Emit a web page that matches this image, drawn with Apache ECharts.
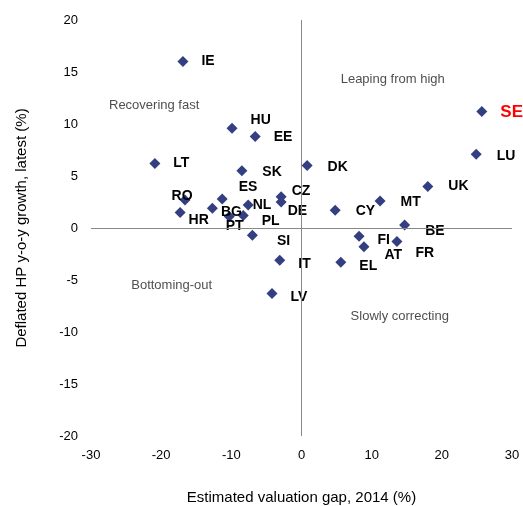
<!DOCTYPE html>
<html><head><meta charset="utf-8">
<script src="https://cdn.jsdelivr.net/npm/echarts@6/dist/echarts.min.js"></script>
<style>html,body{margin:0;padding:0;background:#fff}#c{width:523px;height:506px}</style>
</head><body><div id="c"></div>
<script>
var countries = ['IE','HU','EE','LT','SK','DK','SE','LU','UK','MT','CY','CZ','DE','NL','ES','RO','BG','HR','PL','PT','SI','BE','FI','AT','FR','IT','EL','LV'];
var gap = [-16.9,-9.9,-6.6,-20.9,-8.5,0.8,25.7,24.9,18.0,11.2,4.8,-2.9,-2.9,-7.6,-11.3,-16.6,-12.7,-17.3,-8.3,-10.3,-7.0,14.7,8.2,8.9,13.6,-3.1,5.6,-4.2];
var growth = [16.0,9.6,8.8,6.2,5.5,6.0,11.2,7.1,4.0,2.6,1.7,3.0,2.5,2.2,2.8,2.7,1.9,1.5,1.2,1.1,-0.7,0.3,-0.8,-1.8,-1.3,-3.1,-3.3,-6.3];
// label offsets [dx, dy] in px
var labelOffsets = {IE:[8,0],HU:[8,-8],EE:[8,1],LT:[8,0],SK:[10,1],DK:[10,2],SE:[8,1],LU:[10,2],UK:[10,0],MT:[10,1],CY:[10,1],CZ:[0,-6],DE:[-4,9],NL:[-6,0],ES:[6,-12],RO:[-24,-4],BG:[-2,4],HR:[-2,8],PL:[8,6],PT:[-14,10],SI:[14,6],BE:[10,6],FI:[8,4],AT:[10,8],FR:[8,12],IT:[8,4],EL:[8,4],LV:[8,4]};
var zoneNames = ['Recovering fast','Leaping from high','Bottoming-out','Slowly correcting'];
var zoneX = [-21,13,-18.5,14];
var zoneY = [11.8,14.3,-5.5,-8.5];

var pts = countries.map(function (c, i) {
  var o = labelOffsets[c];
  var big = c === 'SE';
  return {
    value: [gap[i], growth[i]], name: c,
    label: {show: true, formatter: c, position: 'right', offset: o,
      color: big ? '#ff0000' : '#000', fontWeight: 'bold', fontSize: big ? 17 : 14}
  };
});

var chart = echarts.init(document.getElementById('c'));
chart.setOption({
  backgroundColor: '#fff',
  animation: false,
  grid: {left: 91, right: 11, top: 20, bottom: 70, outerBoundsMode: 'none', containLabel: false},
  xAxis: {
    type: 'value', min: -30, max: 30, interval: 10,
    axisLine: {show: false}, axisTick: {show: false}, splitLine: {show: false},
    axisLabel: {color: '#000', fontSize: 13, fontFamily: 'Liberation Sans', margin: 13},
    name: 'Estimated valuation gap, 2014 (%)', nameLocation: 'middle', nameGap: 54,
    nameTextStyle: {color: '#000', fontSize: 15, fontFamily: 'Liberation Sans'}
  },
  yAxis: {
    type: 'value', min: -20, max: 20, interval: 5,
    axisLine: {show: false}, axisTick: {show: false}, splitLine: {show: false},
    axisLabel: {color: '#000', fontSize: 13, fontFamily: 'Liberation Sans', margin: 13},
    name: 'Deflated HP y-o-y growth, latest (%)', nameLocation: 'middle', nameGap: 62,
    nameTextStyle: {color: '#000', fontSize: 15, fontFamily: 'Liberation Sans'}
  },
  series: [{
    type: 'scatter', symbol: 'diamond', symbolSize: 11,
    itemStyle: {color: '#333f80', opacity: 1},
    label: {fontFamily: 'Liberation Sans'},
    data: pts,
    markLine: {
      silent: true, symbol: 'none', label: {show: false},
      lineStyle: {color: '#888', type: 'solid', width: 1},
      data: [{xAxis: 0}, {yAxis: 0}]
    }
  }, {
    type: 'scatter', symbolSize: 0,
    data: zoneNames.map(function (n, i) {
      return {value: [zoneX[i], zoneY[i]],
        label: {show: true, formatter: n, position: 'inside', color: '#222',
          fontSize: 13, fontFamily: 'Liberation Sans'}};
    })
  }]
});
</script></body></html>
